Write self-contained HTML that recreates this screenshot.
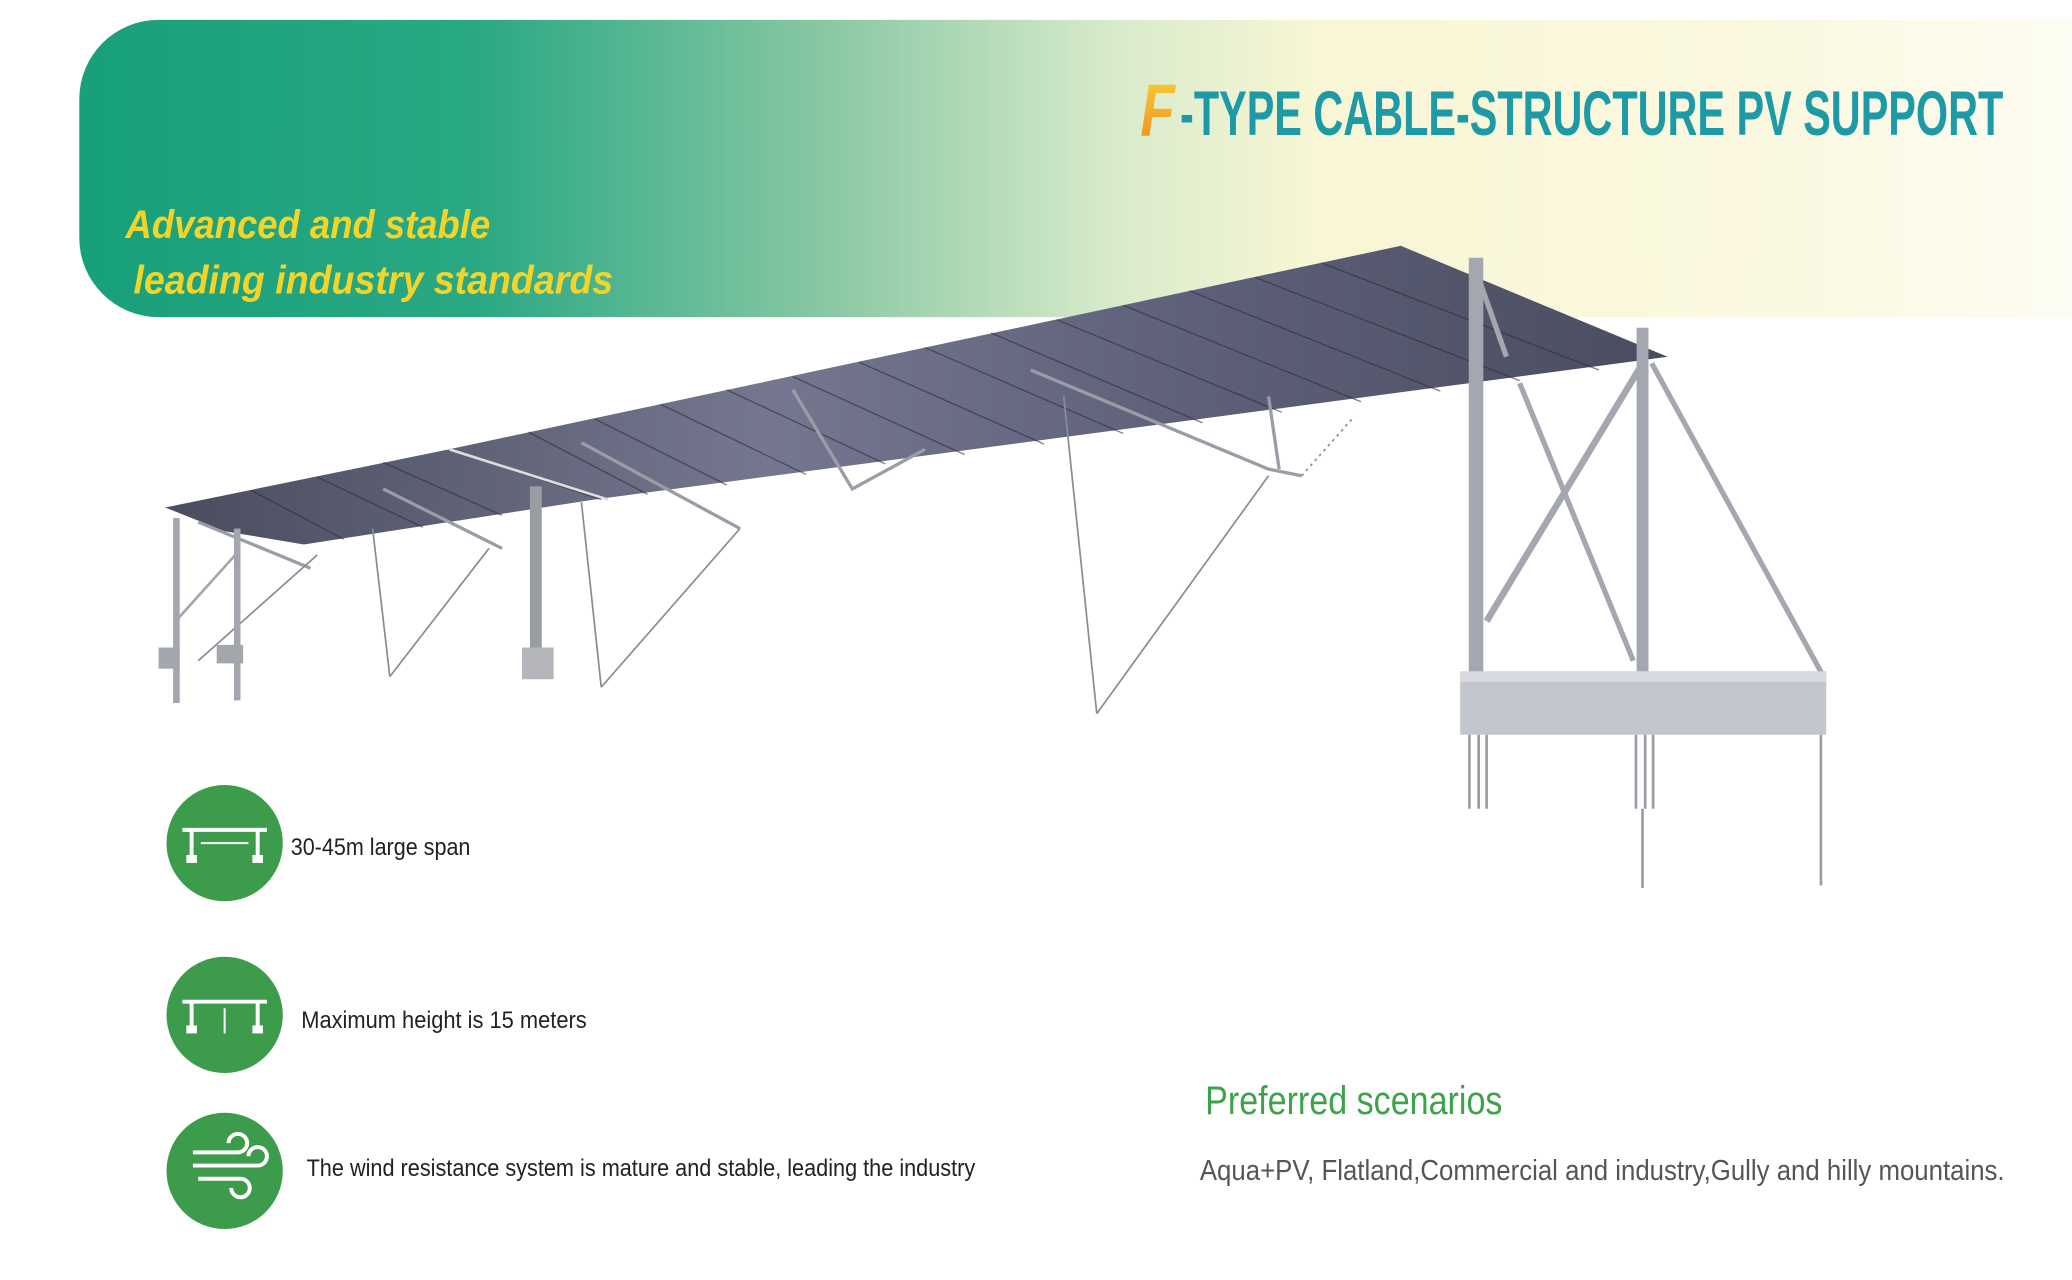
<!DOCTYPE html>
<html><head><meta charset="utf-8"><style>html,body{margin:0;padding:0;background:#fff}svg{display:block}</style></head>
<body>
<svg width="2072" height="1280" viewBox="0 0 1568 968.6" preserveAspectRatio="none" xmlns="http://www.w3.org/2000/svg">
<defs>
<linearGradient id="hdr" x1="0" y1="0" x2="1" y2="0">
<stop offset="0" stop-color="#17a07a"/>
<stop offset="0.2" stop-color="#2aa884"/>
<stop offset="0.38" stop-color="#8cc9a4"/>
<stop offset="0.52" stop-color="#d8ebcc"/>
<stop offset="0.62" stop-color="#f8f6d4"/>
<stop offset="0.85" stop-color="#fbf8e0"/>
<stop offset="1" stop-color="#fdfcf2"/>
</linearGradient>
<linearGradient id="fg" x1="0" y1="0" x2="0" y2="1">
<stop offset="0" stop-color="#f7d23a"/>
<stop offset="1" stop-color="#f08a1c"/>
</linearGradient>
<linearGradient id="pan" x1="0" y1="0" x2="1" y2="0">
<stop offset="0" stop-color="#4a4d5e"/>
<stop offset="0.4" stop-color="#74778f"/>
<stop offset="0.7" stop-color="#5c5f77"/>
<stop offset="1" stop-color="#4a4d60"/>
</linearGradient>
</defs>
<path d="M120 15 H1568 V240 H120 A60 60 0 0 1 60 180 V75 A60 60 0 0 1 120 15 Z" fill="url(#hdr)"/>
<text x="863" y="103" font-family="Liberation Sans Narrow, Liberation Sans, sans-serif" font-weight="bold" font-style="italic" font-size="56" fill="url(#fg)" textLength="26" lengthAdjust="spacingAndGlyphs">F</text>
<text x="893" y="102" font-family="Liberation Sans Narrow, Liberation Sans, sans-serif" font-weight="bold" font-size="48" fill="#1d9aa6" textLength="623" lengthAdjust="spacingAndGlyphs">-TYPE CABLE-STRUCTURE PV SUPPORT</text>
<text x="95" y="180" font-family="Liberation Sans, sans-serif" font-weight="bold" font-style="italic" font-size="30" fill="#f5d42a" textLength="276" lengthAdjust="spacingAndGlyphs">Advanced and stable</text>
<text x="101" y="222" font-family="Liberation Sans, sans-serif" font-weight="bold" font-style="italic" font-size="30" fill="#f5d42a" textLength="363" lengthAdjust="spacingAndGlyphs">leading industry standards</text>

<polygon points="125,384 340,340 1060,186 1262,270 450,378 230,412 170,402" fill="url(#pan)"/>
<g stroke="#2c2e3a" stroke-width="1" opacity="0.6">
<line x1="1000" y1="199" x2="1210" y2="280"/><line x1="950" y1="210" x2="1150" y2="288"/>
<line x1="900" y1="220" x2="1090" y2="296"/><line x1="850" y1="231" x2="1030" y2="304"/>
<line x1="800" y1="242" x2="970" y2="312"/><line x1="750" y1="252" x2="910" y2="320"/>
<line x1="700" y1="263" x2="850" y2="328"/><line x1="650" y1="274" x2="790" y2="336"/>
<line x1="600" y1="285" x2="730" y2="344"/><line x1="550" y1="295" x2="670" y2="351"/>
<line x1="500" y1="306" x2="610" y2="359"/><line x1="450" y1="317" x2="550" y2="367"/>
<line x1="400" y1="327" x2="490" y2="374"/><line x1="340" y1="340" x2="455" y2="378"/>
<line x1="290" y1="350" x2="380" y2="390"/><line x1="240" y1="361" x2="320" y2="399"/>
<line x1="190" y1="371" x2="260" y2="408"/>
</g>
<line x1="340" y1="340" x2="460" y2="378" stroke="#ddd" stroke-width="2"/>
<g stroke="#9a9ca6" stroke-width="2.5" fill="none">
<polyline points="780,280 960,355 985,360"/><polyline points="600,295 645,370 700,340"/>
<polyline points="440,335 560,400"/><polyline points="290,370 380,415"/>
<polyline points="150,395 235,430"/>
<line x1="960" y1="300" x2="968" y2="355"/>
</g>
<g stroke="#8a8c96" stroke-width="1.3" fill="none">
<line x1="960" y1="360" x2="830" y2="540"/><line x1="805" y1="300" x2="830" y2="540"/>
<line x1="560" y1="400" x2="455" y2="520"/><line x1="440" y1="380" x2="455" y2="520"/>
<line x1="370" y1="415" x2="295" y2="512"/><line x1="282" y1="400" x2="295" y2="512"/>
<line x1="240" y1="420" x2="150" y2="500"/><line x1="985" y1="360" x2="1025" y2="315" stroke-dasharray="2,3"/>
</g>
<rect x="401" y="368" width="9" height="125" fill="#9a9ca4"/>
<rect x="395" y="490" width="24" height="24" fill="#b4b6bc"/>
<g fill="#a4a6ae">
<rect x="131" y="392" width="5" height="140"/><rect x="177" y="400" width="5" height="130"/>
<rect x="120" y="490" width="16" height="16"/><rect x="164" y="488" width="20" height="14"/>
</g>
<line x1="133" y1="470" x2="178" y2="420" stroke="#a4a6ae" stroke-width="2"/>
<g stroke="#a4a7b0" fill="none">
<line x1="1117" y1="195" x2="1117" y2="510" stroke-width="11"/>
<line x1="1243" y1="248" x2="1243" y2="510" stroke-width="9"/>
<line x1="1150" y1="290" x2="1236" y2="500" stroke-width="4"/>
<line x1="1243" y1="275" x2="1125" y2="470" stroke-width="5"/>
<line x1="1250" y1="275" x2="1380" y2="512" stroke-width="4"/>
<line x1="1117" y1="205" x2="1140" y2="270" stroke-width="4"/>
</g>
<rect x="1105" y="508" width="277" height="48" fill="#c3c6cc"/>
<rect x="1105" y="508" width="277" height="8" fill="#d8dadf"/>
<g stroke="#9a9ca4" stroke-width="2">
<line x1="1112" y1="556" x2="1112" y2="612"/><line x1="1119" y1="556" x2="1119" y2="612"/><line x1="1125" y1="556" x2="1125" y2="612"/>
<line x1="1238" y1="556" x2="1238" y2="612"/><line x1="1245" y1="556" x2="1245" y2="612"/><line x1="1251" y1="556" x2="1251" y2="612"/>
<line x1="1243" y1="612" x2="1243" y2="672"/><line x1="1378" y1="556" x2="1378" y2="670"/>
</g>

<g fill="#3d9c4c">
<circle cx="170" cy="638" r="44"/><circle cx="170" cy="768" r="44"/><circle cx="170" cy="886" r="44"/>
</g>
<g stroke="#fff" stroke-width="3" fill="none">
<line x1="138" y1="628" x2="202" y2="628"/><line x1="145" y1="628" x2="145" y2="650"/><line x1="195" y1="628" x2="195" y2="650"/>
<line x1="152" y1="638" x2="188" y2="638" stroke-width="1.5"/>
<line x1="138" y1="758" x2="202" y2="758"/><line x1="145" y1="758" x2="145" y2="778"/><line x1="195" y1="758" x2="195" y2="778"/>
<line x1="170" y1="763" x2="170" y2="782" stroke-width="1.5"/>
<path d="M146 872 H180 A7 7 0 1 0 173 865 M146 882 H195 A7 7 0 1 0 188 875 M150 892 H182 A7 7 0 1 1 175 899"/>
</g>
<g fill="#fff"><rect x="141" y="647" width="8" height="6"/><rect x="191" y="647" width="8" height="6"/><rect x="141" y="776" width="8" height="6"/><rect x="191" y="776" width="8" height="6"/></g>

<g font-family="Liberation Sans Narrow, Liberation Sans, sans-serif" fill="#222">
<text x="220" y="647" font-size="18" textLength="136" lengthAdjust="spacingAndGlyphs">30-45m large span</text>
<text x="228" y="778" font-size="18" textLength="216" lengthAdjust="spacingAndGlyphs">Maximum height is 15 meters</text>
<text x="232" y="890" font-size="18" textLength="506" lengthAdjust="spacingAndGlyphs">The wind resistance system is mature and stable, leading the industry</text>
<text x="912" y="843" font-size="30" fill="#3da34b" textLength="225" lengthAdjust="spacingAndGlyphs">Preferred scenarios</text>
<text x="908" y="893" font-size="22" fill="#555" textLength="609" lengthAdjust="spacingAndGlyphs">Aqua+PV, Flatland,Commercial and industry,Gully and hilly mountains.</text>
</g>
</svg>
</body></html>
